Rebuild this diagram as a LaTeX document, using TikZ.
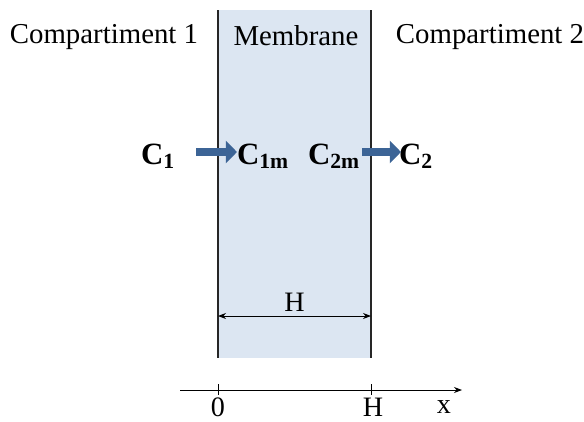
\documentclass[tikz,border=0pt]{standalone}
\usepackage{fontspec}
\setmainfont{Liberation Serif}
\usetikzlibrary{arrows.meta, positioning}

\definecolor{membfill}{HTML}{DCE6F2}
\definecolor{fluxblue}{HTML}{3C6496}

\begin{document}
\begin{tikzpicture}[
    x=0.025cm, y=-0.025cm,
    >=Stealth,
    region_label/.style={
        font=\fontsize{20.5}{24}\selectfont,
        inner sep=0pt
    },
    conc_label/.style={
        font=\fontsize{22}{26}\selectfont\bfseries,
        inner sep=0pt
    },
    flux_arrow/.style={
        -{Triangle[length=0.28cm, width=0.55cm]},
        line width=0.22cm,
        color=fluxblue
    },
    wall_line/.style={
        line width=0.8pt,
        color=black!85
    },
    axis_text/.style={
        font=\fontsize{20}{24}\selectfont,
        inner sep=0pt
    }
]
    \useasboundingbox (0,0) rectangle (584,421);

    % Membrane
    \fill[membfill] (218,10) rectangle (371,358);
    \draw[wall_line] (218,10) -- (218,358);
    \draw[wall_line] (371,10) -- (371,358);

    % Region labels
    \node (comp1) [region_label] at (104,37) {Compartiment 1};
    \node (memb) [region_label] at (296,36) {Membrane};
    \node (comp2) [region_label] at (490,37) {Compartiment 2};

    % Concentrations
    \node (c1) [conc_label] at (158,156) {C$_{\mathbf{1}}$};
    \node (c1m) [conc_label] at (263,156) {C$_{\mathbf{1m}}$};
    \node (c2m) [conc_label] at (334,156) {C$_{\mathbf{2m}}$};
    \node (c2) [conc_label] at (416,156) {C$_{\mathbf{2}}$};

    \draw [flux_arrow] (196,152) -- (237,152);
    \draw [flux_arrow] (362,152) -- (401,152);

    % Thickness
    \draw [<->, line width=0.6pt] (218,316) -- node[above=3pt, axis_text] (thick) {H} (371,316);

    % Axis
    \coordinate (xstart) at (180,390);
    \coordinate (xend) at (462,390);
    \draw [->, line width=0.6pt] (xstart) -- (xend);
    \draw [line width=0.6pt] (218,384) -- (218,395);
    \draw [line width=0.6pt] (371,384) -- (371,395);
    \node (zero) [axis_text] at (218,407) {0};
    \node (hmark) [axis_text] at (373,407) {H};
    \node (xlab) [axis_text] at (444,407) {x};

\end{tikzpicture}
\end{document}
